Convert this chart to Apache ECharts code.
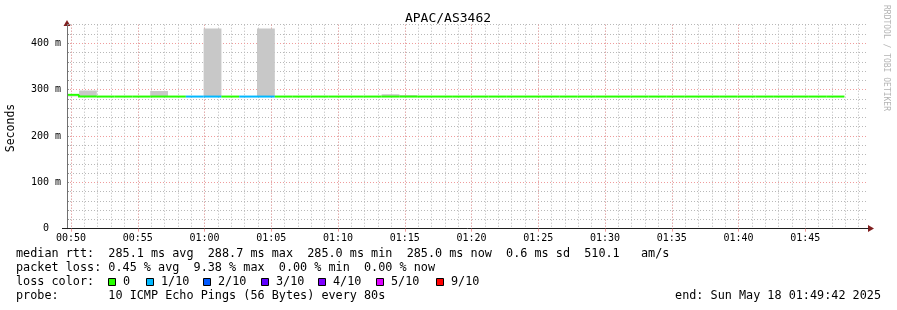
<!DOCTYPE html>
<html>
<head>
<meta charset="utf-8">
<script src="https://cdn.jsdelivr.net/npm/echarts@6/dist/echarts.min.js"></script>
<style>
    html, body { margin: 0; padding: 0; background: #fff; }
    #chart { width: 897px; height: 310px; }
</style>
</head>
<body>
<div id="chart"></div>
<script>
    // time window of the graph
    var axisStart = '00:49:42';
    var axisEnd = '01:49:42';
    var firstStepEnd = '00:50:36';
    var stepSeconds = 80;

    var xTickLabels = ['00:50', '00:55', '01:00', '01:05', '01:10', '01:15',
        '01:20', '01:25', '01:30', '01:35', '01:40', '01:45'];

    // one value per 80s step (ms)
    var medianRtt = [288.7, 285.0, 285.0, 285.0, 285.0, 285.0, 285.0, 285.0, 285.0, 285.0,
        285.0, 285.0, 285.0, 285.0, 285.0, 285.0, 285.0, 285.0, 285.0, 285.0,
        285.0, 285.0, 285.0, 285.0, 285.0, 285.0, 285.0, 285.0, 285.0, 285.0,
        285.0, 285.0, 285.0, 285.0, 285.0, 285.0, 285.0, 285.0, 285.0, 285.0,
        285.0, 285.0, 285.0, 285.0];
    var smokeLow = [284, 284, 284, 284, 284, 284, 284, 284, 284, 284,
        284, 284, 284, 284, 284, 284, 284, 284, 284, 284,
        284, 284, 284, 284, 284, 284, 284, 284, 284, 284,
        284, 284, 284, 284, 284, 284, 284, 284, 284, 284,
        284, 284, 284, 284];
    var smokeHigh = [285, 298, 285, 285, 285, 297, 285, 285, 432, 285,
        285, 432, 285, 285, 285, 285, 285, 285, 290, 288,
        285, 285, 285, 285, 285, 285, 285, 285, 285, 285,
        285, 285, 285, 285, 285, 285, 285, 285, 285, 285,
        285, 285, 285, 285];
    // index into lossColors
    var lossLevel = [0, 0, 0, 0, 0, 0, 0, 1, 1, 0,
        1, 1, 0, 0, 0, 0, 0, 0, 0, 0,
        0, 0, 0, 0, 0, 0, 0, 0, 0, 0,
        0, 0, 0, 0, 0, 0, 0, 0, 0, 0,
        0, 0, 0, 0];

    var lossLabels = ['0', '1/10', '2/10', '3/10', '4/10', '5/10', '9/10'];
    var lossColors = ['#26ff00', '#00b8ff', '#0059ff', '#5e00ff', '#7e00ff', '#dd00ff', '#ff0000'];

    var statLines = [
        'median rtt:  285.1 ms avg  288.7 ms max  285.0 ms min  285.0 ms now  0.6 ms sd  510.1   am/s',
        'packet loss: 0.45 % avg  9.38 % max  0.00 % min  0.00 % now'
    ];
    var probeText = 'probe:       10 ICMP Echo Pings (56 Bytes) every 80s';
    var endText = 'end: Sun May 18 01:49:42 2025';
    var titleText = 'APAC/AS3462';

    var MONO = '"DejaVu Sans Mono", monospace';

    // seconds of the day
    var toSec = function (hms) {
        var p = hms.split(':');
        return (+p[0]) * 3600 + (+p[1]) * 60 + (p[2] ? +p[2] : 0);
    };
    var pad = function (n) { return (n < 10 ? '0' : '') + n; };
    var fmtSec = function (s) {
        return pad(Math.floor(s / 3600)) + ':' + pad(Math.floor(s / 60) % 60);
    };

    var minX = toSec(axisStart);
    var maxX = toSec(axisEnd);
    var majorTicks = xTickLabels.map(toSec);
    // minute grid
    var minorTicks = [];
    for (var m = Math.ceil(minX / 60) * 60; m <= maxX; m += 60) {
        minorTicks.push(m);
    }

    var smokeData = [];
    var lineData = [];
    for (var i = 0; i < medianRtt.length; i++) {
        var end = toSec(firstStepEnd) + i * stepSeconds;
        var start = Math.max(minX, end - stepSeconds);
        smokeData.push([start, end, smokeLow[i], smokeHigh[i]]);
        lineData.push([start, end, medianRtt[i], i > 0 ? medianRtt[i - 1] : medianRtt[i], lossLevel[i]]);
    }

    var graphics = [];
    graphics.push({
        type: 'text', x: 448, y: 19,
        style: { text: titleText, font: '13px ' + MONO, fill: '#000', textAlign: 'center', textVerticalAlign: 'middle' }
    });
    graphics.push({
        type: 'text', x: 11, y: 128, rotation: Math.PI / 2,
        style: { text: 'Seconds', font: '11.5px ' + MONO, fill: '#000', textAlign: 'center', textVerticalAlign: 'middle' }
    });
    graphics.push({
        type: 'text', x: 886, y: 5, rotation: -Math.PI / 2,
        style: { text: 'RRDTOOL / TOBI OETIKER', font: '8px ' + MONO, fill: '#b4b4b4', textAlign: 'left', textVerticalAlign: 'middle' }
    });
    statLines.forEach(function (txt, k) {
        graphics.push({
            type: 'text', x: 16, y: 254 + k * 14,
            style: { text: txt, font: '11.8px ' + MONO, fill: '#000', textAlign: 'left', textVerticalAlign: 'middle' }
        });
    });
    graphics.push({
        type: 'text', x: 16, y: 282,
        style: { text: 'loss color:', font: '11.8px ' + MONO, fill: '#000', textAlign: 'left', textVerticalAlign: 'middle' }
    });
    var boxX = [108, 146, 203, 261, 318, 376, 436];
    lossLabels.forEach(function (lbl, k) {
        graphics.push({
            type: 'rect', shape: { x: boxX[k] + 0.5, y: 278.5, width: 7, height: 7 },
            style: { fill: lossColors[k], stroke: '#000', lineWidth: 1 }
        });
        graphics.push({
            type: 'text', x: boxX[k] + 15, y: 282,
            style: { text: lbl, font: '11.8px ' + MONO, fill: '#000', textAlign: 'left', textVerticalAlign: 'middle' }
        });
    });
    graphics.push({
        type: 'text', x: 16, y: 296,
        style: { text: probeText, font: '11.8px ' + MONO, fill: '#000', textAlign: 'left', textVerticalAlign: 'middle' }
    });
    graphics.push({
        type: 'text', x: 881, y: 296,
        style: { text: endText, font: '11.8px ' + MONO, fill: '#000', textAlign: 'right', textVerticalAlign: 'middle' }
    });
    // axis arrows and the short stub of the x axis left of the y axis
    graphics.push({
        type: 'polygon', shape: { points: [[63.5, 26], [70.5, 26], [67, 20]] },
        style: { fill: '#801f1f' }
    });
    graphics.push({
        type: 'polygon', shape: { points: [[868, 225], [868, 232], [874, 228.5]] },
        style: { fill: '#801f1f' }
    });
    graphics.push({
        type: 'line', shape: { x1: 62, y1: 228.5, x2: 67, y2: 228.5 },
        style: { stroke: '#1f1f1f', lineWidth: 1 }
    });

    var minorGrid = { show: true, lineStyle: { color: '#b8b8b8', width: 1, type: [1, 2] } };
    var majorGrid = { show: true, showMaxLine: false, lineStyle: { color: '#ef9c9c', width: 1, type: [1, 2] } };

    var chart = echarts.init(document.getElementById('chart'), null, { renderer: 'canvas' });
    var option = {
        animation: false,
        backgroundColor: '#fff',
        grid: { left: 67, right: 29, top: 24.7, bottom: 81.3, containLabel: false },
        xAxis: [
            {
                type: 'value', min: minX, max: maxX,
                z: 2,
                axisLine: { show: true, lineStyle: { color: '#1f1f1f', width: 1 } },
                axisTick: { show: true, length: 3, customValues: majorTicks, lineStyle: { color: '#ef9c9c' } },
                axisLabel: {
                    customValues: majorTicks, formatter: fmtSec,
                    fontFamily: MONO, fontSize: 10, color: '#000', margin: 5
                },
                splitLine: majorGrid
            },
            {
                type: 'value', min: minX, max: maxX,
                z: 1,
                axisLine: { show: false },
                axisTick: { show: false, customValues: minorTicks },
                axisLabel: { show: false },
                splitLine: minorGrid
            }
        ],
        yAxis: [
            {
                type: 'value', min: 0, max: 440, interval: 100,
                z: 2,
                axisLine: { show: true, lineStyle: { color: '#707070', width: 1 } },
                axisTick: { show: false },
                axisLabel: {
                    showMaxLabel: false, fontFamily: MONO, fontSize: 10, color: '#000', margin: 6,
                    formatter: function (v) { return v === 0 ? '0  ' : v + ' m'; }
                },
                splitLine: majorGrid
            },
            {
                type: 'value', min: 0, max: 440, interval: 20, position: 'left',
                z: 1,
                axisLine: { show: false },
                axisTick: { show: true, inside: true, length: 2, lineStyle: { color: '#909090' } },
                axisLabel: { show: false },
                splitLine: minorGrid
            }
        ],
        series: [
            {
                type: 'custom',
                name: 'smoke',
                xAxisIndex: 0,
                yAxisIndex: 0,
                encode: { x: [0, 1], y: [2, 3] },
                data: smokeData,
                renderItem: function (params, api) {
                    var p0 = api.coord([api.value(0), api.value(3)]);
                    var p1 = api.coord([api.value(1), api.value(2)]);
                    return {
                        type: 'rect',
                        shape: { x: p0[0], y: p0[1], width: p1[0] - p0[0], height: p1[1] - p0[1] },
                        style: { fill: '#c8c8c8' }
                    };
                }
            },
            {
                type: 'custom',
                name: 'median rtt',
                xAxisIndex: 0,
                yAxisIndex: 0,
                encode: { x: [0, 1], y: [2, 3] },
                data: lineData,
                renderItem: function (params, api) {
                    var prev = api.coord([api.value(0), api.value(3)]);
                    var a = api.coord([api.value(0), api.value(2)]);
                    var b = api.coord([api.value(1), api.value(2)]);
                    return {
                        type: 'polyline',
                        shape: { points: [prev, a, b] },
                        style: { stroke: lossColors[api.value(4)], lineWidth: 2, fill: null }
                    };
                }
            }
        ],
        graphic: graphics
    };
    chart.setOption(option);
</script>
</body>
</html>
